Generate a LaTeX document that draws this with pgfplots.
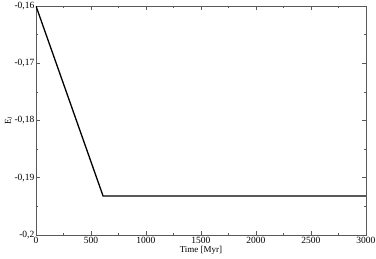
\documentclass[border=0pt]{standalone}
\usepackage{pgfplots}
\pgfplotsset{compat=1.18}
\usepackage{fontspec}
\setmainfont{Liberation Serif}
\begin{document}
\begin{tikzpicture}
\path[use as bounding box] (-36pt,-23pt) rectangle (340pt,235pt);
\begin{axis}[
  at={(0,0)}, anchor=south west,
  scale only axis, width=330pt, height=229pt,
  xmin=0, xmax=3000, ymin=-0.2, ymax=-0.16,
  xtick={0,500,...,3000}, ytick={-0.2,-0.19,-0.18,-0.17,-0.16},
  minor x tick num=1, minor y tick num=1,
  tick align=inside, tick pos=both,
  major tick length=4pt, minor tick length=2pt,
  axis line style={gray!70!black, line width=0.8pt},
  every tick/.style={gray!70!black, line width=0.6pt},
  /pgf/number format/assume math mode=true,
  /pgf/number format/use comma,
  /pgf/number format/1000 sep={},
  /pgf/number format/fixed,
  /pgf/number format/precision=2,
  scaled y ticks=false, scaled x ticks=false,
  ticklabel style={font=\fontsize{9.5}{9.5}\selectfont, inner sep=0.5pt},
  xticklabel style={yshift=-1.5pt},
  yticklabel style={xshift=-1pt},
  xlabel={Time [Myr]},
  ylabel={E\textsubscript{J}},
  label style={font=\fontsize{9}{9}\selectfont, inner sep=0pt},
  xlabel style={yshift=-2pt},
  ylabel style={yshift=2pt},
]
\addplot[black, line width=1.3pt] coordinates {(0,-0.16) (610,-0.1932) (3000,-0.1932)};
\end{axis}
\end{tikzpicture}
\end{document}
